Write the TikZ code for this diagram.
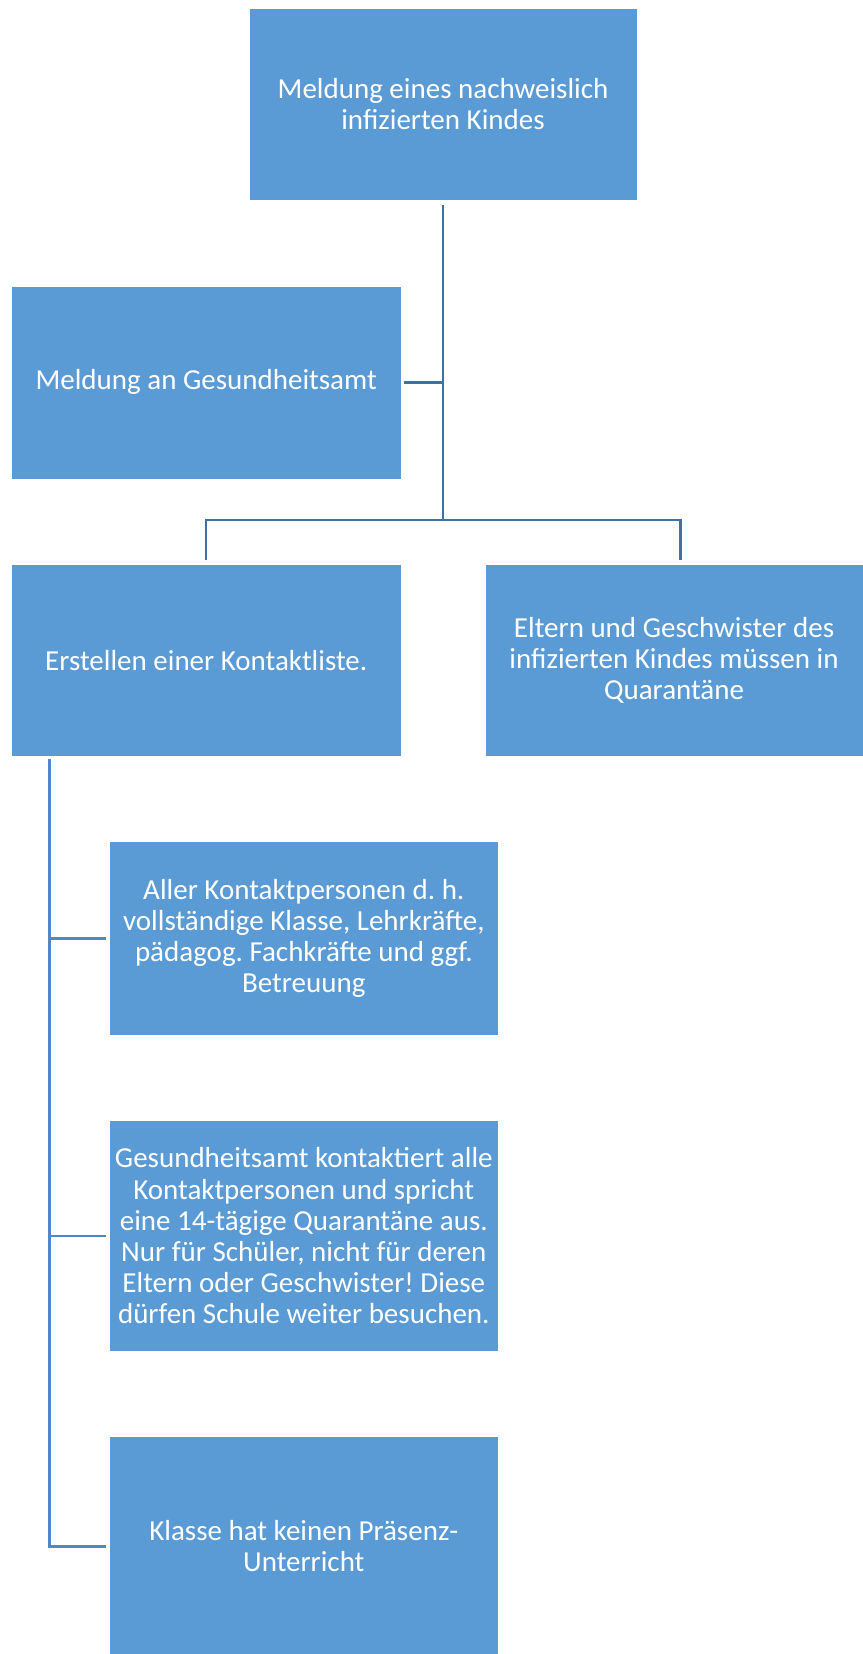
\documentclass[tikz,border=0pt]{standalone}
\usepackage{fontspec}
\setmainfont{Carlito}
\frenchspacing
\definecolor{boxfill}{HTML}{5B9BD5}
\definecolor{treeline}{HTML}{41719C}
\definecolor{sideline}{HTML}{4F87C8}
\begin{document}
\begin{tikzpicture}[x=1pt,y=-1pt,
  box/.style={rectangle, fill=boxfill, draw=white, line width=0.6pt, text=white,
    align=center, inner sep=0pt, font=\fontsize{27.5}{29.5}\selectfont},
  treeconn/.style={draw=treeline, line width=2.4pt},
  sideconn/.style={draw=sideline, line width=2.4pt}]
\useasboundingbox (0,0) rectangle (818,1568);
\node[box, minimum width=368pt, minimum height=182pt] (top) at (420,99)
  {Meldung eines nachweislich\\infizierten Kindes};
\node[box, minimum width=369pt, minimum height=183pt] (ga) at (195.5,362.5)
  {Meldung an Gesundheitsamt};
\node[box, minimum width=369pt, minimum height=182pt] (erst) at (195.5,626)
  {Erstellen einer Kontaktliste.};
\node[box, minimum width=358pt, minimum height=182pt] (elt) at (639,626)
  {Eltern und Geschwister des\\infizierten Kindes müssen in\\Quarantäne};
\node[box, minimum width=368pt, minimum height=183pt] (aller) at (288,889.5)
  {Aller Kontaktpersonen d. h.\\vollständige Klasse, Lehrkräfte,\\pädagog. Fachkräfte und ggf.\\Betreuung};
\node[box, minimum width=368pt, minimum height=219pt] (gesa) at (288,1171.5)
  {Gesundheitsamt kontaktiert alle\\Kontaktpersonen und spricht\\eine 14-tägige Quarantäne aus.\\Nur für Schüler, nicht für deren\\Eltern oder Geschwister! Diese\\dürfen Schule weiter besuchen.};
\node[box, minimum width=368pt, minimum height=208pt] (klasse) at (288,1466)
  {Klasse hat keinen Präsenz-\\Unterricht};
\coordinate (j) at (420,493);
\coordinate (ls) at (47,720);
\draw[treeconn] ([yshift=-4pt]top.south) -- (j);
\draw[treeconn] ([xshift=3pt]ga.east) -- (ga.east -| j);
\draw[treeconn] ([yshift=4pt]erst.north) |- (j) -| ([yshift=4pt,xshift=6pt]elt.north);
\draw[sideconn] (ls) |- ([xshift=-3pt]klasse.west);
\draw[sideconn] (ls |- aller.west) -- ([xshift=-3pt]aller.west);
\draw[sideconn] (ls |- gesa.west) -- ([xshift=-3pt]gesa.west);
\end{tikzpicture}
\end{document}
